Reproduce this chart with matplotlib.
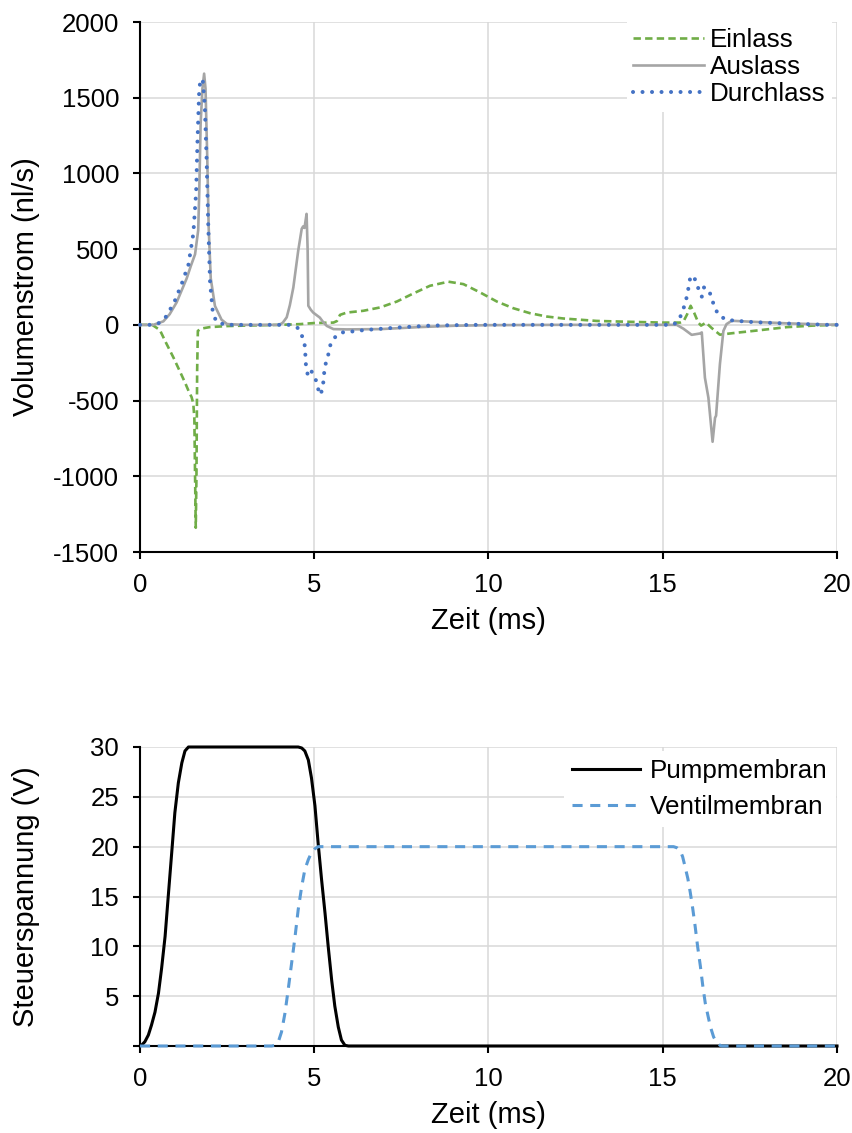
import matplotlib
matplotlib.use("Agg")
import matplotlib.pyplot as plt

plt.rcParams['font.family'] = ['Liberation Sans', 'DejaVu Sans']
plt.rcParams['axes.unicode_minus'] = False

# ---------------- data: top chart (Volumenstrom, nl/s) ----------------
t_einlass = [0, 0.35, 0.57, 0.75, 0.96, 1.15, 1.29, 1.40, 1.48, 1.53, 1.56, 1.58, 1.60, 1.62, 1.64, 1.66,
             1.75, 2.0, 2.5, 3.0, 4.0, 4.6, 5.0, 5.55, 5.65, 5.74, 5.93, 6.41, 6.89, 7.37, 7.84, 8.32,
             8.85, 9.28, 9.76, 10.24, 10.71, 11.19, 11.67, 12.15, 13.1, 14.06, 15.0, 15.5, 15.6, 15.7,
             15.8, 15.9, 16.02, 16.1, 16.24, 16.4, 16.64, 17.0, 17.6, 18.56, 19.3, 20]
v_einlass = [0, 0, -34, -120, -216, -310, -380, -440, -477, -520, -620, -1000, -1340, -1000, -300, -40,
             -25, -15, -8, -5, 0, 5, 12, 15, 25, 66, 81, 93, 115, 154, 207, 258,
             285, 269, 214, 154, 110, 77, 55, 42, 26, 20, 15, 15, 25, 70,
             126, 80, 15, -5, 15, -20, -65, -55, -40, -15, -5, 0]

t_auslass = [0, 0.38, 0.67, 0.85, 1.05, 1.2, 1.34, 1.46, 1.58, 1.67, 1.70, 1.74, 1.79, 1.84, 1.88, 1.93,
             1.97, 2.03, 2.15, 2.34, 2.5, 3.0, 4.0, 4.1, 4.21, 4.3, 4.4, 4.54, 4.64, 4.68, 4.72, 4.78,
             4.81, 4.83, 4.9, 4.97, 5.16, 5.25, 5.36, 5.55, 5.93, 6.9, 8.0, 9.0, 10.0, 12.0, 15.0, 15.4,
             15.59, 15.83, 16.07, 16.12, 16.21, 16.31, 16.43, 16.5, 16.53, 16.64, 16.74, 16.83, 16.98,
             17.6, 18.56, 20]
v_auslass = [0, 0, 23, 70, 148, 230, 307, 390, 466, 625, 875, 1330, 1557, 1659, 1560, 1102,
             648, 307, 125, 34, 5, 0, 0, 15, 50, 130, 247, 490, 634, 650, 640, 733,
             500, 126, 100, 81, 48, 20, -7, -28, -30, -28, -15, -6, -2, 0, 0, 0,
             -25, -66, -57, -50, -349, -481, -772, -614, -600, -260, -40, 5, 27,
             20, 10, 0]

t_durchlass = [0, 0.4, 0.53, 0.76, 1.0, 1.2, 1.39, 1.53, 1.61, 1.65, 1.70, 1.74, 1.80, 1.86, 1.91, 1.96,
               2.01, 2.08, 2.18, 2.44, 4.3, 4.54, 4.67, 4.73, 4.76, 4.81, 4.88, 5.02, 5.09, 5.16, 5.24,
               5.29, 5.34, 5.42, 5.47, 5.64, 5.86, 6.14, 6.41, 6.68, 7.37, 8.32, 9.5, 15.3, 15.45,
               15.56, 15.64, 15.71, 15.75, 15.8, 15.94, 16.02, 16.12, 16.18, 16.31, 16.4, 16.48, 16.6,
               16.82, 17.1, 17.6, 18.56, 19.75, 20]
v_durchlass = [0, 0, 10, 57, 159, 273, 398, 602, 875, 1216, 1557, 1620, 1620, 1443, 1102, 648,
               284, 102, 23, 0, 0, -22, -84, -139, -260, -327, -293, -342, -404, -463, -426,
               -305, -243, -183, -124, -68, -46, -43, -35, -30, -18, -5, 0, 0, 27,
               82, 141, 203, 263, 325, 298, 241, 186, 247, 236, 181, 119, 66,
               33, 27, 18, 9, 0, 0]

# ---------------- data: bottom chart (Steuerspannung, V) ----------------
t_pump = [0, 0.05, 0.14, 0.24, 0.33, 0.43, 0.53, 0.62, 0.72, 0.81, 0.91, 1.0, 1.1, 1.2, 1.29, 1.39, 1.48,
          4.54, 4.64, 4.73, 4.83, 4.92, 5.02, 5.11, 5.21, 5.31, 5.4, 5.5, 5.59, 5.69, 5.78, 5.88, 5.98, 20]
v_pump = [0, 0.1, 0.43, 1.1, 2.1, 3.4, 5.3, 7.8, 11, 15, 19.4, 23.4, 26.4, 28.4, 29.6, 30, 30,
          30, 29.9, 29.6, 28.7, 26.9, 24.1, 20.4, 16.7, 13.3, 10, 6.6, 4, 1.9, 0.6, 0.07, 0, 0]

t_ventil = [0, 3.78, 3.87, 3.97, 4.06, 4.16, 4.25, 4.35, 4.45, 4.54, 4.64, 4.73, 4.83, 4.92, 5.02, 5.11,
            5.21, 15.31, 15.4, 15.5, 15.57, 15.64, 15.72, 15.79, 15.86, 15.93, 16.0, 16.08, 16.15,
            16.22, 16.3, 16.37, 16.46, 16.56, 16.65, 16.7, 20]
v_ventil = [0, 0, 0.07, 0.43, 1.4, 3.3, 5.6, 8.3, 11, 13.7, 16, 17.7, 18.7, 19.4, 19.8, 20,
            20, 20, 19.9, 19.6, 19, 18, 16.8, 15.4, 13.8, 12, 10, 8, 6,
            4.3, 3, 1.9, 0.9, 0.3, 0.05, 0, 0]

x_ticks = [0, 5, 10, 15, 20]
top_yticks = [-1500, -1000, -500, 0, 500, 1000, 1500, 2000]
bot_yticks = [0, 5, 10, 15, 20, 25, 30]
bot_ylabels = ['', '5', '10', '15', '20', '25', '30']

W, H = 853, 1133
fig = plt.figure(figsize=(W / 100, H / 100), dpi=100)

TICK_FS = 18.5
LABEL_FS = 21
LEG_FS = 18.7
GRID_C = '#D9D9D9'
YLAB_X = (40 - 140) / 697


def style_axes(ax):
    for s in ['top', 'right']:
        ax.spines[s].set_visible(False)
    for s in ['left', 'bottom']:
        ax.spines[s].set_linewidth(1.5)
        ax.spines[s].set_color('black')
    ax.grid(True, color=GRID_C, linewidth=1.1)
    ax.set_axisbelow(True)
    ax.tick_params(axis='both', which='major', direction='out', length=5, width=1.5,
                   labelsize=TICK_FS, pad=10, colors='black')


# ---- top axes ----
ax1 = fig.add_axes([140 / W, 1 - 552 / H, 697 / W, 530 / H])
style_axes(ax1)
ax1.plot(t_einlass, v_einlass, color='#70AD47', lw=1.9, ls=(0, (2.8, 1.6)), label='Einlass',
         zorder=3, clip_on=False)
ax1.plot(t_auslass, v_auslass, color='#A5A5A5', lw=1.9, ls='-', label='Auslass',
         zorder=3, clip_on=False)
ax1.plot(t_durchlass, v_durchlass, color='#4472C4', lw=2.9, ls=(0, (0.01, 2.35)),
         dash_capstyle='round', solid_capstyle='round', label='Durchlass', zorder=4, clip_on=False)
ax1.set_xlim(0, 20)
ax1.set_ylim(-1500, 2000)
ax1.set_xticks(x_ticks)
ax1.set_yticks(top_yticks)
ax1.set_xlabel('Zeit (ms)', fontsize=LABEL_FS, labelpad=7)
ax1.set_ylabel('Volumenstrom (nl/s)', fontsize=LABEL_FS)
ax1.yaxis.set_label_coords(YLAB_X, 0.5)
ax1.legend(loc='upper right', bbox_to_anchor=(0.993, 1.0), fontsize=LEG_FS,
           frameon=True, fancybox=False, edgecolor='none', facecolor='white', framealpha=1,
           borderaxespad=0, borderpad=0.25, labelspacing=0.1, handlelength=2.7,
           handletextpad=0.25)

# ---- bottom axes ----
ax2 = fig.add_axes([140 / W, 1 - 1046 / H, 697 / W, 299 / H])
style_axes(ax2)
ax2.plot(t_pump, v_pump, color='black', lw=2.2, ls='-', label='Pumpmembran', zorder=3,
         clip_on=False)
ax2.plot(t_ventil, v_ventil, color='#5B9BD5', lw=2.2, ls=(0, (3.3, 2.5)), label='Ventilmembran',
         zorder=4, clip_on=False)
ax2.set_xlim(0, 20)
ax2.set_ylim(0, 30)
ax2.set_xticks(x_ticks)
ax2.set_yticks(bot_yticks)
ax2.set_yticklabels(bot_ylabels)
ax2.set_xlabel('Zeit (ms)', fontsize=LABEL_FS, labelpad=7)
ax2.set_ylabel('Steuerspannung (V)', fontsize=LABEL_FS)
ax2.yaxis.set_label_coords(YLAB_X, 0.5)
ax2.legend(loc='upper right', bbox_to_anchor=(0.998, 0.985), fontsize=LEG_FS,
           frameon=True, fancybox=False, edgecolor='none', facecolor='white', framealpha=1,
           borderaxespad=0, borderpad=0.3, labelspacing=0.45, handlelength=2.6,
           handletextpad=0.4)

fig.savefig('out.png', dpi=100)
